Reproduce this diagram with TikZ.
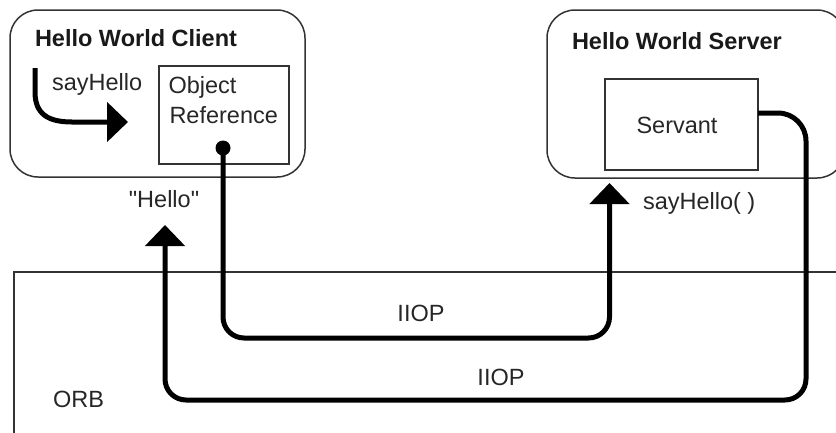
\documentclass[tikz,border=0pt]{standalone}
\usepackage{fontspec}
\setmainfont{Liberation Sans}
\usetikzlibrary{arrows.meta}
\begin{document}
\begin{tikzpicture}[x=1pt,y=-1pt,
  every node/.style={inner sep=0pt,outer sep=0pt,text=black!85,
    font=\fontsize{23.5}{30}\selectfont},
  title/.style={font=\fontsize{23.5}{30}\selectfont\bfseries,text=black!90},
  procbox/.style={draw=black!80,line width=1.5pt,rounded corners=28pt},
  objbox/.style={draw=black!80,line width=1.3pt},
  wire/.style={line width=5pt,black},
  conn/.style={wire,rounded corners=21pt,
    -{Triangle[width=39pt,length=21pt]}}]
\useasboundingbox (0,0) rectangle (836,432);

% ORB area, open towards the right and the bottom
\draw[draw=black!80,line width=1.4pt] (14,440) |- (850,272);

% client and server processes
\node[procbox,minimum width=295pt,minimum height=167pt] (client) at (157.5,93.5) {};
\node[procbox,minimum width=298pt,minimum height=168pt] (server) at (696,94) {};
\node[title,anchor=base west] (ctitle) at (35,46.5) {Hello World Client};
\node[title,anchor=base west] (stitle) at (572,49) {Hello World Server};

% object reference and servant
\node[objbox,minimum width=130pt,minimum height=98pt] (objref) at (224,115) {};
\node[anchor=base west] (objt1) at (168.5,93) {Object};
\node[anchor=base west] (objt2) at (169.5,123) {Reference};
\node[objbox,minimum width=153pt,minimum height=91pt] (servant) at (681.5,124.5) {};
\node[anchor=base] (servt) at (677,133) {Servant};
\fill[black] (223,148) circle (7.5pt) coordinate (dot);

% local call inside the client
\coordinate (shstart) at (35,68);
\coordinate (shend) at (128,122);
\draw[wire,-{Triangle[width=39pt,length=21pt]}]
  (shstart) -- (35,92) .. controls (35,114) and (48,122) .. (72,122) -- (shend);
\node[anchor=base west] (shlabel) at (52,90) {sayHello};

% request travelling through the ORB
\coordinate (srvin) at (609.5,183);
\coordinate (reqlow) at (223,338);
\draw[conn] (dot) -- (reqlow) -| (srvin);
\node[anchor=base] (iiop1) at (421,321) {IIOP};
\node[anchor=base west] (callabel) at (643,209) {sayHello( )};

% reply travelling back to the client
\coordinate (srvout) at (758,113);
\coordinate (replow) at (806,400);
\coordinate (cliin) at (165,225);
\draw[conn] (srvout) [rounded corners=28pt] -| (806,250)
  [rounded corners=21pt] -- (replow) -| (cliin);
\node[anchor=base] (iiop2) at (501,385) {IIOP};
\node[anchor=base] (hello) at (164,207) {\textquotedbl Hello\textquotedbl};

\node[anchor=base west] (orb) at (53,407) {ORB};
\end{tikzpicture}
\end{document}
